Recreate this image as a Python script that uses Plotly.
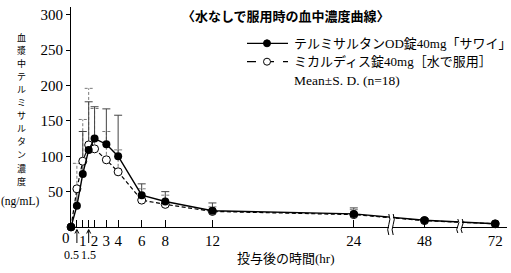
import plotly.graph_objects as go

# ---------------- data ----------------
times = [0, 0.5, 1, 1.5, 2, 3, 4, 6, 8, 12, 24, 48, 72]
od_mean = [0, 30, 75, 109, 125, 117, 100, 45, 36, 23, 18.5, 9.5, 4.5]
od_sd = [0, 23, 60, 68, 45, 50, 58, 16, 14, 11, 8.5, 2.5, 1.5]
mic_mean = [0, 54, 93, 116, 110.5, 95, 78, 38, 32, 22, 17.5, 9, 4.5]
mic_sd = [0, 36, 59, 80, 57, 40, 31, 16, 13, 6.5, 7, 2.5, 1.5]

x_tick_hours = [0.5, 1, 1.5, 2, 3, 4, 6, 8, 12, 24, 48, 72]
x_tick_text = ["", "1", "", "2", "3", "4", "6", "8", "12", "24", "48", "72"]
y_tick_vals = [50, 100, 150, 200, 250, 300]

name_od = "テルミサルタンOD錠40mg「サワイ」"
name_mic = "ミカルディス錠40mg［水で服用］"
stat_text = "Mean±S. D. (n=18)"
title_text = "〈水なしで服用時の血中濃度曲線〉"
ytitle_chars = list("血漿中テルミサルタン濃度")
yunit = "(ng/mL)"
xtitle = "投与後の時間(hr)"

# ---------------- layout geometry ----------------
W, H = 511, 273
L, R, T, B = 71, 4, 7, 46
PW, PH = W - L - R, H - T - B
XMAX = 37.0
YMAX = 311.0

def axpos(t):
    # broken time axis: linear to 24 h, compressed (1/4) beyond
    return t if t <= 24 else 24 + (t - 24) / 4.0

def px_x(px):
    return (px - L) / PW

def px_y(py):
    return (H - B - py) / PH

xs = [axpos(t) for t in times]
hpx = PW / XMAX  # pixels per axis unit

SERIF = "Liberation Serif, Noto Sans CJK JP"
CJK = "Noto Sans CJK JP"

def err_lines(xv, mean, sd, capw):
    ex, ey = [], []
    for x, m, s in zip(xv, mean, sd):
        if s <= 0:
            continue
        ex += [x, x, None, x - capw, x + capw, None]
        ey += [m, m + s, None, m + s, m + s, None]
    return ex, ey

capw = 4.0 / hpx

fig = go.Figure()
ex, ey = err_lines(xs, mic_mean, mic_sd, capw)
fig.add_trace(go.Scatter(x=ex, y=ey, mode="lines", line=dict(color="#7a7a7a", width=1, dash="3px,2px"),
                         hoverinfo="skip", showlegend=False, cliponaxis=False))
ex, ey = err_lines(xs, od_mean, od_sd, capw)
fig.add_trace(go.Scatter(x=ex, y=ey, mode="lines", line=dict(color="#444444", width=1),
                         hoverinfo="skip", showlegend=False, cliponaxis=False))
fig.add_trace(go.Scatter(x=xs, y=mic_mean, mode="lines+markers", name=name_mic,
                         line=dict(color="black", width=1.2, dash="4px,2.5px"),
                         marker=dict(symbol="circle", size=8, color="white", line=dict(color="black", width=1)),
                         showlegend=False, cliponaxis=False))
fig.add_trace(go.Scatter(x=xs, y=od_mean, mode="lines+markers", name=name_od,
                         line=dict(color="black", width=1.4),
                         marker=dict(symbol="circle", size=8, color="black"),
                         showlegend=False, cliponaxis=False))

shapes = []
annotations = []

# axis breaks
for bpx, ytop, ybot in [(391, 214, 235), (460, 219, 233)]:
    shapes.append(dict(type="rect", xref="paper", yref="paper",
                       x0=px_x(bpx - 2), x1=px_x(bpx + 2), y0=px_y(ybot), y1=px_y(ytop),
                       fillcolor="white", line=dict(width=0), layer="above"))
    for dx in (-2.2, 2.2):
        xc = bpx + dx
        ym = (ytop + ybot) / 2
        path = (f"M {px_x(xc)},{px_y(ytop)} Q {px_x(xc + 2.2)},{px_y((ytop + ym) / 2)} {px_x(xc)},{px_y(ym)} "
                f"Q {px_x(xc - 2.2)},{px_y((ym + ybot) / 2)} {px_x(xc)},{px_y(ybot)}")
        shapes.append(dict(type="path", xref="paper", yref="paper", path=path,
                           line=dict(color="black", width=1), layer="above"))

# legend (manual)
leg_x0, leg_x1, leg_mx, leg_tx = 247, 288, 267, 292
for row_y, dash, fill, txt in [(43.3, "solid", "black", name_od), (61.7, "dash", "white", name_mic)]:
    shapes.append(dict(type="line", xref="paper", yref="paper", x0=px_x(leg_x0), x1=px_x(leg_x1),
                       y0=px_y(row_y), y1=px_y(row_y), line=dict(color="black", width=1.2, dash=dash)))
    shapes.append(dict(type="circle", xref="paper", yref="paper", xsizemode="pixel", ysizemode="pixel",
                       xanchor=px_x(leg_mx), yanchor=px_y(row_y), x0=-3.5, x1=3.5, y0=-3.5, y1=3.5,
                       fillcolor=fill, line=dict(color="black", width=1)))
    annotations.append(dict(xref="paper", yref="paper", x=px_x(leg_tx), y=px_y(row_y), text=txt,
                            showarrow=False, xanchor="left", yanchor="middle",
                            font=dict(family=SERIF, size=13, color="black")))
annotations.append(dict(xref="paper", yref="paper", x=px_x(leg_tx), y=px_y(80), text=stat_text,
                        showarrow=False, xanchor="left", yanchor="middle",
                        font=dict(family=SERIF, size=13.5, color="black")))

# title
annotations.append(dict(xref="paper", yref="paper", x=px_x(286), y=px_y(15), text="<b>" + title_text + "</b>",
                        showarrow=False, xanchor="center", yanchor="middle",
                        font=dict(family=CJK, size=13, color="black")))

# vertical y title (stacked characters)
y0c, pitch = 37.5, 13.05
for i, ch in enumerate(ytitle_chars):
    annotations.append(dict(xref="paper", yref="paper", x=px_x(21), y=px_y(y0c + i * pitch), text=ch,
                            showarrow=False, xanchor="center", yanchor="middle",
                            font=dict(family=CJK, size=9, color="black")))
annotations.append(dict(xref="paper", yref="paper", x=px_x(20), y=px_y(201), text=yunit,
                        showarrow=False, xanchor="center", yanchor="middle",
                        font=dict(family=SERIF, size=11.5, color="black")))

# x title
annotations.append(dict(xref="paper", yref="paper", x=px_x(286), y=px_y(258), text=xtitle,
                        showarrow=False, xanchor="center", yanchor="middle",
                        font=dict(family=SERIF, size=13, color="black")))

# "0" label and arrowed 0.5 / 1.5 labels
annotations.append(dict(xref="paper", yref="paper", x=px_x(66), y=px_y(237.5), text="0",
                        showarrow=False, xanchor="center", yanchor="middle",
                        font=dict(family=SERIF, size=15, color="black")))
for t, lab_px in [(0.5, 71.5), (1.5, 88)]:
    apx = L + axpos(t) * hpx
    shapes.append(dict(type="line", xref="paper", yref="paper", x0=px_x(apx), x1=px_x(apx),
                       y0=px_y(243), y1=px_y(230), line=dict(color="black", width=1)))
    shapes.append(dict(type="path", xref="paper", yref="paper",
                       path=f"M {px_x(apx - 2)},{px_y(233.5)} L {px_x(apx)},{px_y(229.5)} L {px_x(apx + 2)},{px_y(233.5)}",
                       line=dict(color="black", width=1)))
    annotations.append(dict(xref="paper", yref="paper", x=px_x(lab_px), y=px_y(255), text=str(t),
                            showarrow=False, xanchor="center", yanchor="middle",
                            font=dict(family=SERIF, size=12, color="black")))

fig.update_layout(
    width=W, height=H, margin=dict(l=L, r=R, t=T, b=B, pad=0),
    paper_bgcolor="white", plot_bgcolor="white",
    showlegend=False, shapes=shapes, annotations=annotations,
    font=dict(family=SERIF, color="black"),
)
fig.update_xaxes(range=[0, XMAX], showgrid=False, zeroline=False, showline=True, linecolor="black", linewidth=1,
                 tickmode="array", tickvals=[axpos(t) for t in x_tick_hours], ticktext=x_tick_text,
                 ticks="inside", ticklen=7, tickwidth=1, tickcolor="black",
                 tickfont=dict(family=SERIF, size=15, color="black"))
fig.update_yaxes(range=[0, YMAX], showgrid=False, zeroline=False, showline=True, linecolor="black", linewidth=1,
                 tickmode="array", tickvals=y_tick_vals, ticks="outside", ticklen=4, tickwidth=1,
                 tickcolor="black", tickfont=dict(family=SERIF, size=15, color="black"))

fig.write_html("out.html")
